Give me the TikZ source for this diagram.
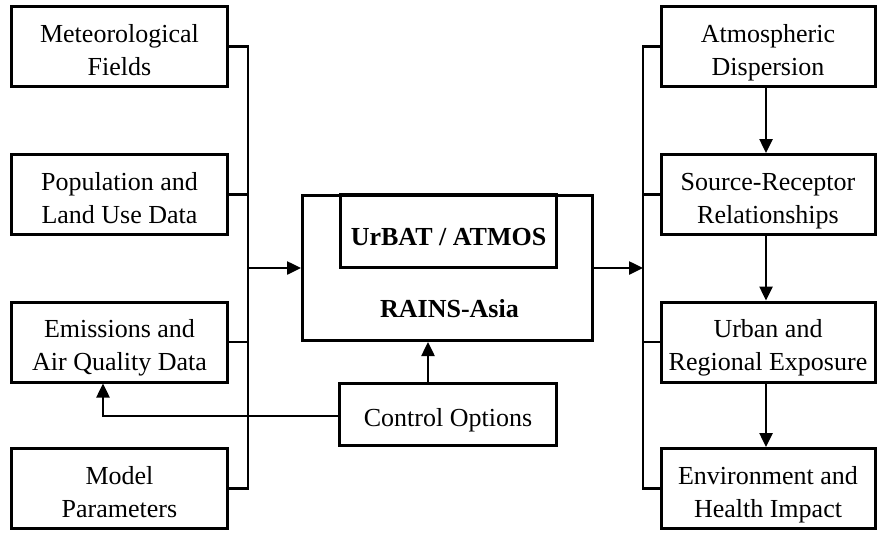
\documentclass[tikz,border=0pt]{standalone}
\usepackage{fontspec}
\setmainfont{Liberation Serif}
\usetikzlibrary{arrows.meta,calc}
\begin{document}
\begin{tikzpicture}[x=1pt,y=-1pt,
  box/.style={draw,line width=3pt,minimum width=216pt,minimum height=80pt,align=center,inner sep=0pt,
    text height=57pt,text depth=0pt,font=\fontsize{26}{33}\selectfont},
  conn/.style={line width=2.5pt},
  arr/.style={line width=2.5pt,-{Triangle[length=14pt,width=13pt]}}]
\useasboundingbox (0,0) rectangle (878,533);
% left column
\node[box] (m1) at (119.5,46.5) {Meteorological\\Fields};
\node[box] (m2) at (119.5,194.5) {Population and\\Land Use Data};
\node[box] (m3) at (119.5,342) {Emissions and\\Air Quality Data};
\node[box] (m4) at (119.5,488.5) {Model\\Parameters};
% right column
\node[box,minimum width=214pt] (r1) at (768,46.5) {Atmospheric\\Dispersion};
\node[box,minimum width=214pt] (r2) at (768,194.5) {Source-Receptor\\Relationships};
\node[box,minimum width=214pt] (r3) at (768,342) {Urban and\\Regional Exposure};
\node[box,minimum width=214pt] (r4) at (768,488.5) {Environment and\\Health Impact};
% centre
\node[draw,line width=3pt,minimum width=290pt,minimum height=145pt,inner sep=0pt] (rains) at (447.5,268) {};
\node[draw,line width=3pt,minimum width=216pt,minimum height=73pt,inner sep=0pt,
  text height=28pt,text depth=0pt,
  font=\fontsize{26}{33}\selectfont\bfseries] (urbat) at (448.5,231) {UrBAT / ATMOS};
\node[font=\fontsize{26}{33}\selectfont\bfseries,inner sep=0pt,anchor=base] (rainslbl) at (449.5,317) {RAINS-Asia};
\node[box,minimum width=217pt,minimum height=62pt,text height=23pt] (ctrl) at (448,414.5) {Control Options};
% buses
\coordinate (lb) at (248,0);
\coordinate (rb) at (643,0);
\draw[conn] (m1.east) -- (m1.east -| lb) -- (m4.east -| lb) -- (m4.east);
\draw[conn] (m2.east) -- (m2.east -| lb);
\draw[conn] (m3.east) -- (m3.east -| lb);
\draw[arr] (rains.west -| lb) -- (rains.west);
\draw[arr] (rains.east) -- (rains.east -| rb);
\draw[conn] (r1.west) -- (r1.west -| rb) -- (r4.west -| rb) -- (r4.west);
\draw[conn] (r2.west) -- (r2.west -| rb);
\draw[conn] (r3.west) -- (r3.west -| rb);
% right chain
\draw[arr] ([xshift=-2pt]r1.south) -- ([xshift=-2pt]r2.north);
\draw[arr] ([xshift=-2pt]r2.south) -- ([xshift=-2pt]r3.north);
\draw[arr] ([xshift=-2pt]r3.south) -- ([xshift=-2pt]r4.north);
% control options
\draw[arr] ([xshift=-20pt]ctrl.north) -- ([xshift=-20pt]ctrl.north |- rains.south);
\draw[arr] ([yshift=-1.5pt]ctrl.west) -| ([xshift=-16.5pt]m3.south);
\end{tikzpicture}
\end{document}
